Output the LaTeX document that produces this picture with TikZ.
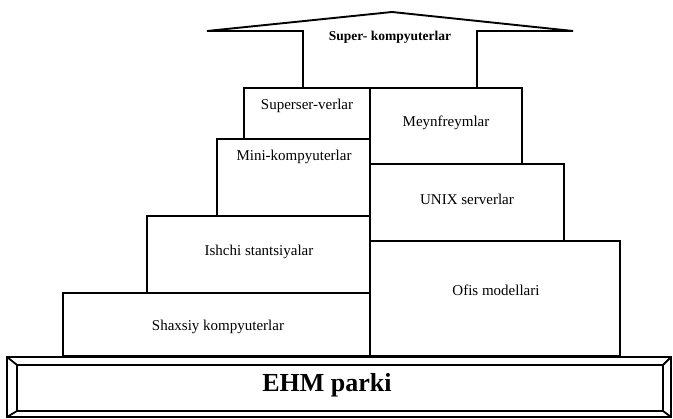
\documentclass[tikz,border=0pt]{standalone}
\usepackage{fontspec}
\setmainfont{Liberation Serif}
\usetikzlibrary{positioning, calc}

\begin{document}
\begin{tikzpicture}[
        x=1pt, y=-1pt,
        blok/.style={
            rectangle,
            draw=black,
            line width=1.9pt,
            inner sep=0pt,
            outer sep=0pt,
            anchor=north west
        },
        yozuv/.style={
            anchor=base,
            inner sep=0pt,
            font=\fontsize{15}{17}\selectfont
        },
        strelka/.style={
            draw=black,
            line width=1.9pt,
            line join=miter
        },
        ramka/.style={
            draw=black,
            line width=1.8pt
        }
    ]

    \useasboundingbox (0,0) rectangle (673,419);

    % Left column of blocks
    \node[blok, minimum width=126pt, minimum height=51pt] (superserver) at (244,88) {};
    \node[blok, minimum width=153pt, minimum height=77pt] (mini) at (217,139) {};
    \node[blok, minimum width=223pt, minimum height=77pt] (ishchi) at (147,216) {};
    \node[blok, minimum width=307pt, minimum height=63pt] (shaxsiy) at (63,293) {};

    % Right column of blocks
    \node[blok, minimum width=152pt, minimum height=76pt] (meynfreym) at (370,88) {};
    \node[blok, minimum width=194pt, minimum height=77pt] (unix) at (370,164) {};
    \node[blok, minimum width=250pt, minimum height=115pt] (ofis) at (370,241) {};

    % Labels
    \node[yozuv] (superservertxt) at (307,110) {Superser-verlar};
    \node[yozuv] (minitxt) at (294,161) {Mini-kompyuterlar};
    \node[yozuv] (ishchitxt) at (259,256) {Ishchi stantsiyalar};
    \node[yozuv] (shaxsiytxt) at (218,331) {Shaxsiy kompyuterlar};
    \node[yozuv] (meynfreymtxt) at (446,127) {Meynfreymlar};
    \node[yozuv] (unixtxt) at (467,205) {UNIX serverlar};
    \node[yozuv] (ofistxt) at (496,296) {Ofis modellari};

    % ------------------------------------------------------------------
    % Arrow on top
    % ------------------------------------------------------------------
    \draw[strelka] (303,88) -- (303,31) -- (207,31) -- (392,12)
        -- (573,31) -- (477,31) -- (477,88);
    \node[yozuv, font=\fontsize{13.5}{15}\selectfont\bfseries] (supertxt) at (390,41)
        {Super- kompyuterlar};

    % ------------------------------------------------------------------
    % Base plate with bevelled frame
    % ------------------------------------------------------------------
    \coordinate (tashqinw) at (7,357);
    \coordinate (tashqise) at (671,417);
    \coordinate (ichkinw) at (17,365);
    \coordinate (ichkise) at (663,411);
    \draw[ramka] (tashqinw) rectangle (tashqise);
    \draw[ramka] (ichkinw) rectangle (ichkise);
    \draw[ramka] (tashqinw) -- (ichkinw);
    \draw[ramka] (tashqinw |- tashqise) -- (ichkinw |- ichkise);
    \draw[ramka] (tashqise |- tashqinw) -- (ichkise |- ichkinw);
    \draw[ramka] (tashqise) -- (ichkise);
    \node[yozuv, font=\fontsize{26}{28}\selectfont\bfseries] (ehmtxt) at (327,392) {EHM parki};

\end{tikzpicture}
\end{document}
